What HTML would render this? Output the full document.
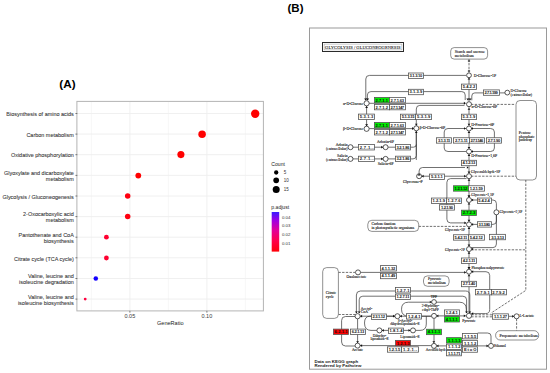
<!DOCTYPE html>
<html><head><meta charset="utf-8"><style>
html,body{margin:0;padding:0;background:#fff;width:550px;height:373px;overflow:hidden;}
svg{display:block;}
</style></head><body><svg width="550" height="373" viewBox="0 0 550 373"><line x1="91.4" y1="101.4" x2="91.4" y2="310.9" stroke="#f3f3f3" stroke-width="0.7"/><line x1="168.4" y1="101.4" x2="168.4" y2="310.9" stroke="#f3f3f3" stroke-width="0.7"/><line x1="245.4" y1="101.4" x2="245.4" y2="310.9" stroke="#f3f3f3" stroke-width="0.7"/><line x1="129.9" y1="101.4" x2="129.9" y2="310.9" stroke="#eeeeee" stroke-width="0.9"/><line x1="206.9" y1="101.4" x2="206.9" y2="310.9" stroke="#eeeeee" stroke-width="0.9"/><line x1="76.9" y1="113.5" x2="263.4" y2="113.5" stroke="#eeeeee" stroke-width="0.9"/><line x1="76.9" y1="134.1" x2="263.4" y2="134.1" stroke="#eeeeee" stroke-width="0.9"/><line x1="76.9" y1="154.7" x2="263.4" y2="154.7" stroke="#eeeeee" stroke-width="0.9"/><line x1="76.9" y1="175.4" x2="263.4" y2="175.4" stroke="#eeeeee" stroke-width="0.9"/><line x1="76.9" y1="196.0" x2="263.4" y2="196.0" stroke="#eeeeee" stroke-width="0.9"/><line x1="76.9" y1="216.6" x2="263.4" y2="216.6" stroke="#eeeeee" stroke-width="0.9"/><line x1="76.9" y1="237.2" x2="263.4" y2="237.2" stroke="#eeeeee" stroke-width="0.9"/><line x1="76.9" y1="257.8" x2="263.4" y2="257.8" stroke="#eeeeee" stroke-width="0.9"/><line x1="76.9" y1="278.5" x2="263.4" y2="278.5" stroke="#eeeeee" stroke-width="0.9"/><line x1="76.9" y1="299.1" x2="263.4" y2="299.1" stroke="#eeeeee" stroke-width="0.9"/><rect x="76.9" y="101.4" width="186.5" height="209.5" fill="none" stroke="#b4b4b4" stroke-width="1"/><line x1="75.4" y1="113.5" x2="77.3" y2="113.5" stroke="#333" stroke-width="0.6"/><text transform="translate(73.8,116.20) scale(1,1.08)" font-size="5.47" fill="#383838" stroke="#383838" stroke-width="0.08" text-anchor="end" font-family="Liberation Sans, sans-serif">Biosynthesis of amino acids</text><line x1="75.4" y1="134.1" x2="77.3" y2="134.1" stroke="#333" stroke-width="0.6"/><text transform="translate(73.8,136.82) scale(1,1.08)" font-size="5.47" fill="#383838" stroke="#383838" stroke-width="0.08" text-anchor="end" font-family="Liberation Sans, sans-serif">Carbon metabolism</text><line x1="75.4" y1="154.7" x2="77.3" y2="154.7" stroke="#333" stroke-width="0.6"/><text transform="translate(73.8,157.44) scale(1,1.08)" font-size="5.47" fill="#383838" stroke="#383838" stroke-width="0.08" text-anchor="end" font-family="Liberation Sans, sans-serif">Oxidative phosphorylation</text><line x1="75.4" y1="175.4" x2="77.3" y2="175.4" stroke="#333" stroke-width="0.6"/><text transform="translate(73.8,175.06) scale(1,1.08)" font-size="5.47" fill="#383838" stroke="#383838" stroke-width="0.08" text-anchor="end" font-family="Liberation Sans, sans-serif">Glyoxylate and dicarboxylate</text><text transform="translate(73.8,181.06) scale(1,1.08)" font-size="5.47" fill="#383838" stroke="#383838" stroke-width="0.08" text-anchor="end" font-family="Liberation Sans, sans-serif">metabolism</text><line x1="75.4" y1="196.0" x2="77.3" y2="196.0" stroke="#333" stroke-width="0.6"/><text transform="translate(73.8,198.68) scale(1,1.08)" font-size="5.47" fill="#383838" stroke="#383838" stroke-width="0.08" text-anchor="end" font-family="Liberation Sans, sans-serif">Glycolysis / Gluconeogenesis</text><line x1="75.4" y1="216.6" x2="77.3" y2="216.6" stroke="#333" stroke-width="0.6"/><text transform="translate(73.8,216.30) scale(1,1.08)" font-size="5.47" fill="#383838" stroke="#383838" stroke-width="0.08" text-anchor="end" font-family="Liberation Sans, sans-serif">2-Oxocarboxylic acid</text><text transform="translate(73.8,222.30) scale(1,1.08)" font-size="5.47" fill="#383838" stroke="#383838" stroke-width="0.08" text-anchor="end" font-family="Liberation Sans, sans-serif">metabolism</text><line x1="75.4" y1="237.2" x2="77.3" y2="237.2" stroke="#333" stroke-width="0.6"/><text transform="translate(73.8,236.92) scale(1,1.08)" font-size="5.47" fill="#383838" stroke="#383838" stroke-width="0.08" text-anchor="end" font-family="Liberation Sans, sans-serif">Pantothenate and CoA</text><text transform="translate(73.8,242.92) scale(1,1.08)" font-size="5.47" fill="#383838" stroke="#383838" stroke-width="0.08" text-anchor="end" font-family="Liberation Sans, sans-serif">biosynthesis</text><line x1="75.4" y1="257.8" x2="77.3" y2="257.8" stroke="#333" stroke-width="0.6"/><text transform="translate(73.8,260.54) scale(1,1.08)" font-size="5.47" fill="#383838" stroke="#383838" stroke-width="0.08" text-anchor="end" font-family="Liberation Sans, sans-serif">Citrate cycle (TCA cycle)</text><line x1="75.4" y1="278.5" x2="77.3" y2="278.5" stroke="#333" stroke-width="0.6"/><text transform="translate(73.8,278.16) scale(1,1.08)" font-size="5.47" fill="#383838" stroke="#383838" stroke-width="0.08" text-anchor="end" font-family="Liberation Sans, sans-serif">Valine, leucine and</text><text transform="translate(73.8,284.16) scale(1,1.08)" font-size="5.47" fill="#383838" stroke="#383838" stroke-width="0.08" text-anchor="end" font-family="Liberation Sans, sans-serif">isoleucine degradation</text><line x1="75.4" y1="299.1" x2="77.3" y2="299.1" stroke="#333" stroke-width="0.6"/><text transform="translate(73.8,298.78) scale(1,1.08)" font-size="5.47" fill="#383838" stroke="#383838" stroke-width="0.08" text-anchor="end" font-family="Liberation Sans, sans-serif">Valine, leucine and</text><text transform="translate(73.8,304.78) scale(1,1.08)" font-size="5.47" fill="#383838" stroke="#383838" stroke-width="0.08" text-anchor="end" font-family="Liberation Sans, sans-serif">isoleucine biosynthesis</text><line x1="129.9" y1="310.9" x2="129.9" y2="312.7" stroke="#333" stroke-width="0.6"/><text x="129.9" y="318.0" font-size="5.5" fill="#3a3a3a" text-anchor="middle" font-family="Liberation Sans, sans-serif">0.05</text><line x1="206.9" y1="310.9" x2="206.9" y2="312.7" stroke="#333" stroke-width="0.6"/><text x="206.9" y="318.0" font-size="5.5" fill="#3a3a3a" text-anchor="middle" font-family="Liberation Sans, sans-serif">0.10</text><text x="170.3" y="324.6" font-size="5.55" fill="#1a1a1a" text-anchor="middle" font-family="Liberation Sans, sans-serif">GeneRatio</text><circle cx="255.2" cy="113.8" r="4.2" fill="#ff0000"/><circle cx="202.1" cy="134.2" r="3.75" fill="#ff0000"/><circle cx="180.9" cy="154.6" r="3.55" fill="#ff0000"/><circle cx="138.3" cy="175.6" r="2.9" fill="#ff0000"/><circle cx="127.7" cy="195.9" r="2.75" fill="#ff0010"/><circle cx="127.7" cy="216.6" r="2.75" fill="#ff0010"/><circle cx="106.4" cy="237.2" r="2.4" fill="#ff0030"/><circle cx="106.4" cy="258.0" r="2.4" fill="#ff0030"/><circle cx="95.8" cy="278.4" r="2.25" fill="#1400ff"/><circle cx="85.2" cy="299.1" r="1.4" fill="#ff0040"/><text x="271.3" y="165.5" font-size="5.1" fill="#1a1a1a" font-family="Liberation Sans, sans-serif">Count</text><circle cx="276.2" cy="172.5" r="2.15" fill="#000"/><text x="283.8" y="174.1" font-size="4.5" fill="#333" font-family="Liberation Sans, sans-serif">5</text><circle cx="276.2" cy="180.3" r="2.85" fill="#000"/><text x="283.8" y="181.9" font-size="4.5" fill="#333" font-family="Liberation Sans, sans-serif">10</text><circle cx="276.2" cy="189.6" r="3.5" fill="#000"/><text x="283.8" y="191.2" font-size="4.5" fill="#333" font-family="Liberation Sans, sans-serif">15</text><text x="271.3" y="209.2" font-size="5.1" fill="#1a1a1a" font-family="Liberation Sans, sans-serif">p.adjust</text><defs><linearGradient id="pg" x1="0" y1="0" x2="0" y2="1"><stop offset="0" stop-color="#3a1cff"/><stop offset="0.2" stop-color="#9a00e6"/><stop offset="0.45" stop-color="#e0009c"/><stop offset="0.72" stop-color="#ff004c"/><stop offset="1" stop-color="#ff0008"/></linearGradient></defs><rect x="271.7" y="212" width="7.5" height="39.6" fill="url(#pg)"/><text x="281.9" y="218.7" font-size="4.4" fill="#333" font-family="Liberation Sans, sans-serif">0.04</text><text x="281.9" y="227.4" font-size="4.4" fill="#333" font-family="Liberation Sans, sans-serif">0.03</text><text x="281.9" y="236.1" font-size="4.4" fill="#333" font-family="Liberation Sans, sans-serif">0.02</text><text x="281.9" y="244.7" font-size="4.4" fill="#333" font-family="Liberation Sans, sans-serif">0.01</text><text x="59.3" y="88.3" font-size="11.7" font-weight="bold" fill="#000" font-family="Liberation Sans, sans-serif">(A)</text><text x="287.5" y="12.0" font-size="11.5" font-weight="bold" fill="#000" font-family="Liberation Sans, sans-serif">(B)</text><rect x="309.5" y="28" width="237" height="341.2" fill="#fff" stroke="#9a9a9a" stroke-width="1"/><rect x="322.5" y="42.5" width="81" height="9" fill="#fff" stroke="#2a2a2a" stroke-width="1"/><rect x="324.1" y="44.1" width="77.8" height="5.8" fill="none" stroke="#9a9a9a" stroke-width="0.5"/><text x="325.1" y="48.8" font-size="4.8" fill="#222" stroke="#222" stroke-width="0.1" textLength="75.4" lengthAdjust="spacingAndGlyphs" font-family="Liberation Serif, serif">GLYCOLYSIS / GLUCONEOGENESIS</text><text x="314.5" y="362.5" font-size="4.4" fill="#1a1a1a" font-weight="bold" font-family="Liberation Sans, sans-serif">Data on KEGG graph</text><text x="314.5" y="367.0" font-size="4.4" fill="#1a1a1a" font-weight="bold" font-family="Liberation Sans, sans-serif">Rendered by Pathview</text><path d="M469.0,78.0 L469.0,101.5" fill="none" stroke="#333" stroke-width="0.7"/><path d="M469.0,106.5 L469.0,125.8" fill="none" stroke="#333" stroke-width="0.7"/><path d="M469.0,131.0 L469.0,148.8" fill="none" stroke="#333" stroke-width="0.7"/><path d="M469.0,154.0 L469.0,173.5" fill="none" stroke="#333" stroke-width="0.7"/><path d="M469.0,178.7 L469.0,197.4" fill="none" stroke="#333" stroke-width="0.7"/><path d="M469.0,202.6 L469.0,221.8" fill="none" stroke="#333" stroke-width="0.7"/><path d="M469.0,227.0 L469.0,246.5" fill="none" stroke="#333" stroke-width="0.7"/><path d="M469.0,251.7 L469.0,269.1" fill="none" stroke="#333" stroke-width="0.7"/><path d="M469.0,274.3 L469.0,313.0" fill="none" stroke="#333" stroke-width="0.7"/><path d="M469.0,59.3 L469.0,72.5" fill="none" stroke="#333" stroke-width="0.7" stroke-dasharray="2.4,1.3"/><path d="M466,75.4 L369.5,75.4 Q365.8,75.4 365.8,79 L365.8,100.2" fill="none" stroke="#333" stroke-width="0.7"/><path d="M465.2,100 L465.2,95 Q465.2,91.6 461.8,91.6 L371,91.6 Q367.4,91.6 367.4,95 L367.4,100.2" fill="none" stroke="#333" stroke-width="0.7"/><path d="M507,92.9 L474.8,92.9 Q471.8,92.9 471.8,96 L471.8,100.3" fill="none" stroke="#333" stroke-width="0.7"/><path d="M369.0,103.3 L464.5,103.3" fill="none" stroke="#333" stroke-width="0.7"/><path d="M416.3,126 L416.3,109 Q416.3,105.4 419.8,105.4 L464.5,105.4" fill="none" stroke="#333" stroke-width="0.7"/><path d="M471.0,104.4 L514.8,104.4" fill="none" stroke="#333" stroke-width="0.7" stroke-dasharray="2.4,1.3"/><path d="M366.6,106.0 L366.6,126.0" fill="none" stroke="#333" stroke-width="0.7"/><path d="M369.2,128.6 L413.2,128.6" fill="none" stroke="#333" stroke-width="0.7"/><path d="M416.3,131.0 L416.3,160.0" fill="none" stroke="#333" stroke-width="0.7"/><path d="M353.0,147.2 L383.0,147.2" fill="none" stroke="#333" stroke-width="0.7"/><path d="M388.1,147.2 L413.4,147.2" fill="none" stroke="#333" stroke-width="0.7"/><path d="M413.4,147.2 Q416.3,147.2 416.3,144.5" fill="none" stroke="#333" stroke-width="0.7"/><path d="M353.0,158.9 L383.0,158.9" fill="none" stroke="#333" stroke-width="0.7"/><path d="M388.1,158.9 L413,158.9 Q416.3,158.9 416.3,155.6 L416.3,131" fill="none" stroke="#333" stroke-width="0.7"/><path d="M466,128.5 L448,128.5 Q444.2,128.5 444.2,132 L444.2,148 Q444.2,151.5 448,151.5 L466,151.5" fill="none" stroke="#333" stroke-width="0.7"/><path d="M471,128.5 L490.6,128.5 Q494.4,128.5 494.4,132 L494.4,148 Q494.4,151.5 490.6,151.5 L471,151.5" fill="none" stroke="#333" stroke-width="0.7"/><path d="M419.1,173.7 L419.1,171 Q419.1,167.5 422.6,167.5 L465,167.5" fill="none" stroke="#333" stroke-width="0.7"/><path d="M421.6,176.2 L465.9,176.2" fill="none" stroke="#333" stroke-width="0.7"/><path d="M471.0,176.2 L525.8,176.2" fill="none" stroke="#333" stroke-width="0.7" stroke-dasharray="2.4,1.3"/><path d="M525.8,176.2 L525.8,290.4 L490.8,313.2" fill="none" stroke="#333" stroke-width="0.7" stroke-dasharray="2.4,1.3"/><path d="M466.5,178.6 L450.6,178.6 Q446.9,178.6 446.9,182.3 L446.9,219.2 Q446.9,222.9 450.6,222.9 L466,222.9" fill="none" stroke="#333" stroke-width="0.7"/><path d="M471,200 L493,200 Q496.4,200 496.4,203.5 L496.4,209.8" fill="none" stroke="#333" stroke-width="0.7"/><path d="M496.4,214.8 L496.4,221 Q496.4,224.4 493,224.4 L471,224.4" fill="none" stroke="#333" stroke-width="0.7"/><path d="M418.7,226.4 L465.5,226.4" fill="none" stroke="#333" stroke-width="0.7" stroke-dasharray="2.4,1.3"/><path d="M496.4,214.8 L496.4,244 Q496.4,247.6 493,247.6 L471,247.6" fill="none" stroke="#333" stroke-width="0.7"/><path d="M471.0,249.8 L525.8,249.8" fill="none" stroke="#333" stroke-width="0.7" stroke-dasharray="2.4,1.3"/><path d="M471,271.7 L486,271.7 Q489.7,271.7 489.7,275.5 L489.7,309.5 Q489.7,313.6 485.5,313.6 L471.3,313.6" fill="none" stroke="#333" stroke-width="0.7"/><path d="M338.4,272.4 L355.0,272.4" fill="none" stroke="#333" stroke-width="0.7" stroke-dasharray="2.4,1.3"/><path d="M360.5,272.4 L465.9,272.4" fill="none" stroke="#333" stroke-width="0.7"/><path d="M356.4,313 L356.4,295 Q356.4,291 360.4,291 L465.5,291 Q469.8,291 469.8,295 L469.8,312.8" fill="none" stroke="#333" stroke-width="0.7"/><path d="M359.2,313 L359.2,299.8 Q359.2,296.2 362.8,296.2 L462.8,296.2 Q466.6,296.2 466.6,299.8 L466.6,312.8" fill="none" stroke="#333" stroke-width="0.7"/><path d="M431.5,316.2 L408.5,316.2 Q401.5,316.2 401.5,309.2 Q401.5,302.2 408.5,302.2 L459.3,302.2 Q466.3,302.2 466.3,309.2 L466.3,313" fill="none" stroke="#333" stroke-width="0.7"/><path d="M360.2,316.2 L395,316.2" fill="none" stroke="#333" stroke-width="0.7"/><path d="M338.4,314.5 L355.0,314.5" fill="none" stroke="#333" stroke-width="0.7" stroke-dasharray="2.4,1.3"/><path d="M400.0,316.2 L430.9,316.2" fill="none" stroke="#333" stroke-width="0.7"/><path d="M394.9,316.2 L370,316.2 Q364.5,316.2 364.5,323 Q364.5,330.4 371,330.4 L376.8,330.4" fill="none" stroke="#333" stroke-width="0.7"/><path d="M381.9,330.4 L410.5,330.4" fill="none" stroke="#333" stroke-width="0.7"/><path d="M415.5,330.4 L420,330.4 Q426.3,330.4 426.3,324 L426.3,316.2" fill="none" stroke="#333" stroke-width="0.7"/><path d="M436.5,315.9 L465.9,315.9" fill="none" stroke="#333" stroke-width="0.7"/><path d="M471.2,314.8 L492.6,314.8" fill="none" stroke="#333" stroke-width="0.7" stroke-dasharray="2.4,1.3"/><path d="M471.2,316.8 L492.6,316.8" fill="none" stroke="#333" stroke-width="0.7" stroke-dasharray="2.4,1.3"/><path d="M508.4,316.3 L514.0,316.3" fill="none" stroke="#333" stroke-width="0.7"/><path d="M516.6,318.8 L516.6,330.5" fill="none" stroke="#333" stroke-width="0.7" stroke-dasharray="2.4,1.3"/><path d="M434.0,318.4 L434.0,343.2" fill="none" stroke="#333" stroke-width="0.7"/><path d="M436.5,345.9 L488.5,345.9" fill="none" stroke="#333" stroke-width="0.7"/><path d="M491,343.4 L491,336 Q491,333 487.5,333 L477.7,333" fill="none" stroke="#333" stroke-width="0.7"/><path d="M357.6,318.8 L357.6,343.2" fill="none" stroke="#333" stroke-width="0.7"/><path d="M355,316.5 L345.5,316.5 Q341.6,316.5 341.6,320.5 L341.6,342 Q341.6,346 345.5,346 L355,346" fill="none" stroke="#333" stroke-width="0.7"/><path d="M360.1,345.6 L431.5,345.6" fill="none" stroke="#333" stroke-width="0.7"/><rect x="450.7" y="47.6" width="36.9" height="11.5" rx="3.5" fill="#fff" stroke="#333" stroke-width="0.55"/><rect x="408.5" y="73.00" width="15.0" height="5.4" fill="#fff" stroke="#555" stroke-width="0.8"/><rect x="408.5" y="89.30" width="15.0" height="5.4" fill="#fff" stroke="#555" stroke-width="0.8"/><rect x="483.5" y="89.90" width="16.0" height="5.4" fill="#fff" stroke="#555" stroke-width="0.8"/><rect x="461.5" y="84.10" width="15.0" height="5.4" fill="#fff" stroke="#555" stroke-width="0.8"/><rect x="358.5" y="114.10" width="16.0" height="5.4" fill="#fff" stroke="#555" stroke-width="0.8"/><rect x="374.5" y="97.40" width="15.0" height="5.4" fill="#00ee00" stroke="#555" stroke-width="0.8"/><rect x="389.5" y="97.40" width="16.0" height="5.4" fill="#fff" stroke="#555" stroke-width="0.8"/><rect x="374.5" y="104.40" width="15.0" height="5.4" fill="#fff" stroke="#555" stroke-width="0.8"/><rect x="389.5" y="104.40" width="16.0" height="5.4" fill="#fff" stroke="#555" stroke-width="0.8"/><rect x="374.5" y="122.45" width="15.0" height="5.4" fill="#00ee00" stroke="#555" stroke-width="0.8"/><rect x="389.5" y="122.45" width="16.0" height="5.4" fill="#fff" stroke="#555" stroke-width="0.8"/><rect x="374.5" y="129.55" width="15.0" height="5.4" fill="#fff" stroke="#555" stroke-width="0.8"/><rect x="389.5" y="129.55" width="16.0" height="5.4" fill="#fff" stroke="#555" stroke-width="0.8"/><rect x="400.5" y="114.20" width="15.0" height="5.4" fill="#fff" stroke="#555" stroke-width="0.8"/><rect x="415.5" y="114.20" width="16.0" height="5.4" fill="#fff" stroke="#555" stroke-width="0.8"/><rect x="358.5" y="144.55" width="16.0" height="5.4" fill="#fff" stroke="#555" stroke-width="0.8"/><rect x="395.5" y="144.55" width="15.0" height="5.4" fill="#fff" stroke="#555" stroke-width="0.8"/><rect x="358.5" y="156.20" width="16.0" height="5.4" fill="#fff" stroke="#555" stroke-width="0.8"/><rect x="395.5" y="156.20" width="15.0" height="5.4" fill="#fff" stroke="#555" stroke-width="0.8"/><rect x="461.5" y="114.20" width="15.0" height="5.4" fill="#fff" stroke="#555" stroke-width="0.8"/><rect x="436.5" y="137.75" width="15.0" height="5.4" fill="#fff" stroke="#555" stroke-width="0.8"/><rect x="453.5" y="137.75" width="16.0" height="5.4" fill="#fff" stroke="#555" stroke-width="0.8"/><rect x="469.5" y="137.75" width="15.0" height="5.4" fill="#fff" stroke="#555" stroke-width="0.8"/><rect x="486.5" y="137.75" width="15.0" height="5.4" fill="#fff" stroke="#555" stroke-width="0.8"/><rect x="461.5" y="160.30" width="15.0" height="5.4" fill="#fff" stroke="#555" stroke-width="0.8"/><rect x="516.0" y="100.5" width="20.5" height="79.5" rx="4" fill="#fff" stroke="#333" stroke-width="0.55"/><rect x="429.5" y="174.05" width="15.0" height="5.4" fill="#fff" stroke="#555" stroke-width="0.8"/><rect x="453.5" y="185.75" width="15.0" height="5.4" fill="#00ee00" stroke="#555" stroke-width="0.8"/><rect x="468.5" y="185.75" width="16.0" height="5.4" fill="#fff" stroke="#555" stroke-width="0.8"/><rect x="431.5" y="198.05" width="15.0" height="5.4" fill="#fff" stroke="#555" stroke-width="0.8"/><rect x="446.5" y="198.05" width="15.0" height="5.4" fill="#fff" stroke="#555" stroke-width="0.8"/><rect x="439.5" y="204.70" width="15.0" height="5.4" fill="#fff" stroke="#555" stroke-width="0.8"/><rect x="461.5" y="210.20" width="15.0" height="5.4" fill="#00ee00" stroke="#555" stroke-width="0.8"/><rect x="477.5" y="198.05" width="14.0" height="5.4" fill="#fff" stroke="#555" stroke-width="0.8"/><rect x="477.5" y="221.70" width="14.0" height="5.4" fill="#fff" stroke="#555" stroke-width="0.8"/><rect x="367.8" y="220.3" width="50.9" height="11.1" rx="4" fill="#fff" stroke="#333" stroke-width="0.55"/><rect x="453.5" y="234.75" width="15.0" height="5.4" fill="#fff" stroke="#555" stroke-width="0.8"/><rect x="468.5" y="234.75" width="16.0" height="5.4" fill="#fff" stroke="#555" stroke-width="0.8"/><rect x="489.5" y="234.35" width="16.0" height="5.4" fill="#fff" stroke="#555" stroke-width="0.8"/><rect x="461.5" y="258.00" width="15.0" height="5.4" fill="#fff" stroke="#555" stroke-width="0.8"/><rect x="461.5" y="281.30" width="15.0" height="5.4" fill="#fff" stroke="#555" stroke-width="0.8"/><rect x="475.5" y="289.45" width="16.0" height="5.4" fill="#fff" stroke="#555" stroke-width="0.8"/><rect x="491.5" y="289.45" width="15.0" height="5.4" fill="#fff" stroke="#555" stroke-width="0.8"/><rect x="423.5" y="275.9" width="25.6" height="10.4" rx="4" fill="#fff" stroke="#333" stroke-width="0.55"/><rect x="322.7" y="267.6" width="15.7" height="50.8" rx="4" fill="#fff" stroke="#333" stroke-width="0.55"/><rect x="380.5" y="265.60" width="16.0" height="5.4" fill="#fff" stroke="#555" stroke-width="0.8"/><rect x="380.5" y="273.30" width="16.0" height="5.4" fill="#fff" stroke="#555" stroke-width="0.8"/><rect x="395.5" y="287.55" width="15.0" height="5.4" fill="#fff" stroke="#555" stroke-width="0.8"/><rect x="395.5" y="294.10" width="15.0" height="5.4" fill="#fff" stroke="#555" stroke-width="0.8"/><rect x="371.5" y="314.00" width="15.0" height="5.4" fill="#fff" stroke="#555" stroke-width="0.8"/><rect x="406.5" y="313.65" width="15.0" height="5.4" fill="#fff" stroke="#555" stroke-width="0.8"/><rect x="388.5" y="328.10" width="15.0" height="5.4" fill="#fff" stroke="#555" stroke-width="0.8"/><rect x="444.5" y="309.90" width="15.0" height="5.4" fill="#fff" stroke="#555" stroke-width="0.8"/><rect x="444.5" y="316.60" width="15.0" height="5.4" fill="#00ee00" stroke="#555" stroke-width="0.8"/><rect x="492.5" y="313.85" width="16.0" height="5.4" fill="#fff" stroke="#555" stroke-width="0.8"/><rect x="495.6" y="330.7" width="43.1" height="9.3" rx="4.5" fill="#fff" stroke="#333" stroke-width="0.55"/><rect x="426.5" y="329.25" width="15.0" height="5.4" fill="#00ee00" stroke="#555" stroke-width="0.8"/><rect x="446.5" y="337.65" width="15.0" height="5.4" fill="#00ee00" stroke="#555" stroke-width="0.8"/><rect x="446.5" y="344.15" width="15.0" height="5.4" fill="#fff" stroke="#555" stroke-width="0.8"/><rect x="446.5" y="350.40" width="15.0" height="5.4" fill="#fff" stroke="#555" stroke-width="0.8"/><rect x="462.5" y="333.45" width="15.0" height="5.4" fill="#fff" stroke="#555" stroke-width="0.8"/><rect x="462.5" y="340.35" width="15.0" height="5.4" fill="#fff" stroke="#555" stroke-width="0.8"/><rect x="462.5" y="346.85" width="15.0" height="5.4" fill="#fff" stroke="#555" stroke-width="0.8"/><rect x="333.5" y="329.10" width="15.0" height="5.4" fill="#ff0000" stroke="#555" stroke-width="0.8"/><rect x="350.5" y="329.10" width="15.0" height="5.4" fill="#fff" stroke="#555" stroke-width="0.8"/><rect x="395.5" y="340.40" width="15.0" height="5.4" fill="#ff0000" stroke="#555" stroke-width="0.8"/><rect x="387.5" y="346.80" width="14.0" height="5.4" fill="#fff" stroke="#555" stroke-width="0.8"/><rect x="401.5" y="346.80" width="17.0" height="5.4" fill="#fff" stroke="#555" stroke-width="0.8"/><circle cx="469.0" cy="61.0" r="0.8" fill="#fff" stroke="#222" stroke-width="0.75"/><circle cx="469.0" cy="71.0" r="0.8" fill="#fff" stroke="#222" stroke-width="0.75"/><circle cx="507.3" cy="92.6" r="2.4" fill="#fff" stroke="#222" stroke-width="0.75"/><circle cx="469.0" cy="75.3" r="2.4" fill="#fff" stroke="#222" stroke-width="0.75"/><circle cx="469.0" cy="104.2" r="2.5" fill="#fff" stroke="#222" stroke-width="0.75"/><circle cx="366.6" cy="103.3" r="2.6" fill="#fff" stroke="#222" stroke-width="0.75"/><circle cx="366.6" cy="128.8" r="2.6" fill="#fff" stroke="#222" stroke-width="0.75"/><circle cx="416.3" cy="128.3" r="2.5" fill="#fff" stroke="#222" stroke-width="0.75"/><circle cx="350.5" cy="147.2" r="2.5" fill="#fff" stroke="#222" stroke-width="0.75"/><circle cx="385.6" cy="147.2" r="2.5" fill="#fff" stroke="#222" stroke-width="0.75"/><circle cx="350.5" cy="158.9" r="2.5" fill="#fff" stroke="#222" stroke-width="0.75"/><circle cx="385.6" cy="158.9" r="2.5" fill="#fff" stroke="#222" stroke-width="0.75"/><circle cx="469.0" cy="128.5" r="2.5" fill="#fff" stroke="#222" stroke-width="0.75"/><circle cx="469.0" cy="151.5" r="2.5" fill="#fff" stroke="#222" stroke-width="0.75"/><circle cx="419.1" cy="176.2" r="2.5" fill="#fff" stroke="#222" stroke-width="0.75"/><circle cx="469.0" cy="176.2" r="2.5" fill="#fff" stroke="#222" stroke-width="0.75"/><circle cx="469.0" cy="200.0" r="2.5" fill="#fff" stroke="#222" stroke-width="0.75"/><circle cx="496.4" cy="212.3" r="2.5" fill="#fff" stroke="#222" stroke-width="0.75"/><circle cx="469.0" cy="224.4" r="2.5" fill="#fff" stroke="#222" stroke-width="0.75"/><circle cx="469.0" cy="249.1" r="2.5" fill="#fff" stroke="#222" stroke-width="0.75"/><circle cx="469.0" cy="271.7" r="2.5" fill="#fff" stroke="#222" stroke-width="0.75"/><circle cx="358.0" cy="272.4" r="2.5" fill="#fff" stroke="#222" stroke-width="0.75"/><circle cx="357.6" cy="316.2" r="2.6" fill="#fff" stroke="#222" stroke-width="0.75"/><circle cx="397.4" cy="316.2" r="2.5" fill="#fff" stroke="#222" stroke-width="0.75"/><circle cx="379.4" cy="330.4" r="2.5" fill="#fff" stroke="#222" stroke-width="0.75"/><circle cx="413.0" cy="330.4" r="2.5" fill="#fff" stroke="#222" stroke-width="0.75"/><circle cx="434.0" cy="302.0" r="2.4" fill="#fff" stroke="#222" stroke-width="0.75"/><circle cx="434.0" cy="315.9" r="2.5" fill="#fff" stroke="#222" stroke-width="0.75"/><circle cx="469.0" cy="315.8" r="2.6" fill="#fff" stroke="#222" stroke-width="0.75"/><circle cx="516.6" cy="316.3" r="2.5" fill="#fff" stroke="#222" stroke-width="0.75"/><circle cx="434.0" cy="345.9" r="2.5" fill="#fff" stroke="#222" stroke-width="0.75"/><circle cx="491.0" cy="345.9" r="2.5" fill="#fff" stroke="#222" stroke-width="0.75"/><circle cx="357.6" cy="345.6" r="2.5" fill="#fff" stroke="#222" stroke-width="0.75"/><polygon points="364.1,98.6 367.1,98.6 365.6,100.6" fill="#111"/><polygon points="366.1,98.6 369.1,98.6 367.6,100.6" fill="#111"/><polygon points="466.4,98.6 469.4,98.6 467.9,100.6" fill="#111"/><polygon points="468.5,98.6 471.5,98.6 470.0,100.6" fill="#111"/><polygon points="467.6,79.6 470.4,79.6 469.0,77.8" fill="#111"/><polygon points="463.9,101.8 463.9,104.8 465.9,103.3" fill="#111"/><polygon points="467.6,109.7 470.4,109.7 469.0,107.9" fill="#111"/><polygon points="365.1,124.3 368.1,124.3 366.6,126.3" fill="#111"/><polygon points="412.1,127.1 412.1,130.1 414.0,128.6" fill="#111"/><polygon points="414.9,133.0 417.7,133.0 416.3,131.2" fill="#111"/><polygon points="381.2,145.8 381.2,148.5 383.0,147.2" fill="#111"/><polygon points="381.2,157.6 381.2,160.2 383.0,158.9" fill="#111"/><polygon points="467.6,123.8 470.4,123.8 469.0,125.6" fill="#111"/><polygon points="464.0,127.2 464.0,129.8 465.8,128.5" fill="#111"/><polygon points="473.0,127.2 473.0,129.8 471.2,128.5" fill="#111"/><polygon points="473.0,150.2 473.0,152.8 471.2,151.5" fill="#111"/><polygon points="466.9,166.3 466.9,168.7 468.5,167.5" fill="#111"/><polygon points="464.2,174.8 464.2,177.5 466.0,176.2" fill="#111"/><polygon points="467.6,195.4 470.4,195.4 469.0,197.2" fill="#111"/><polygon points="473.1,198.7 473.1,201.3 471.3,200.0" fill="#111"/><polygon points="473.1,223.1 473.1,225.8 471.3,224.4" fill="#111"/><polygon points="467.6,267.2 470.4,267.2 469.0,269.0" fill="#111"/><polygon points="464.2,271.0 464.2,273.8 466.0,272.4" fill="#111"/><polygon points="355.0,311.4 357.8,311.4 356.4,313.2" fill="#111"/><polygon points="357.8,311.4 360.6,311.4 359.2,313.2" fill="#111"/><polygon points="465.2,311.4 468.0,311.4 466.6,313.2" fill="#111"/><polygon points="468.4,311.4 471.2,311.4 469.8,313.2" fill="#111"/><polygon points="429.8,300.8 429.8,303.2 431.4,302.0" fill="#111"/><polygon points="463.8,314.4 463.8,317.2 465.6,315.8" fill="#111"/><polygon points="512.2,314.9 512.2,317.7 514.0,316.3" fill="#111"/><polygon points="432.4,341.2 435.2,341.2 433.8,343.0" fill="#111"/><polygon points="356.2,341.2 359.0,341.2 357.6,343.0" fill="#111"/><polygon points="467.6,146.9 470.4,146.9 469.0,148.8" fill="#111"/><polygon points="467.6,171.6 470.4,171.6 469.0,173.5" fill="#111"/><polygon points="467.6,195.4 470.4,195.4 469.0,197.3" fill="#111"/><polygon points="467.6,219.8 470.4,219.8 469.0,221.7" fill="#111"/><polygon points="467.6,244.5 470.4,244.5 469.0,246.4" fill="#111"/><polygon points="467.6,267.1 470.4,267.1 469.0,269.0" fill="#111"/><polygon points="467.6,133.1 470.4,133.1 469.0,131.2" fill="#111"/><polygon points="467.6,156.1 470.4,156.1 469.0,154.2" fill="#111"/><polygon points="467.6,180.8 470.4,180.8 469.0,178.9" fill="#111"/><polygon points="467.6,204.6 470.4,204.6 469.0,202.7" fill="#111"/><polygon points="467.6,229.0 470.4,229.0 469.0,227.1" fill="#111"/><polygon points="467.6,253.7 470.4,253.7 469.0,251.8" fill="#111"/><polygon points="467.6,276.3 470.4,276.3 469.0,274.4" fill="#111"/><polygon points="365.2,107.9 368.0,107.9 366.6,106.0" fill="#111"/><polygon points="464.4,221.5 464.4,224.3 466.3,222.9" fill="#111"/><polygon points="473.2,247.7 473.2,250.5 471.3,249.1" fill="#111"/><polygon points="473.2,270.3 473.2,273.1 471.3,271.7" fill="#111"/><polygon points="473.2,312.2 473.2,315.0 471.3,313.6" fill="#111"/><polygon points="438.5,344.5 438.5,347.3 436.6,345.9" fill="#111"/><polygon points="486.5,344.5 486.5,347.3 488.4,345.9" fill="#111"/><polygon points="362.1,344.2 362.1,347.0 360.2,345.6" fill="#111"/><polygon points="383.8,329.0 383.8,331.8 381.9,330.4" fill="#111"/><polygon points="408.5,329.0 408.5,331.8 410.4,330.4" fill="#111"/><polygon points="401.8,314.8 401.8,317.6 399.9,316.2" fill="#111"/><polygon points="393.0,314.8 393.0,317.6 394.9,316.2" fill="#111"/><polygon points="362.1,314.8 362.1,317.6 360.2,316.2" fill="#111"/><polygon points="438.4,314.5 438.4,317.3 436.5,315.9" fill="#111"/><polygon points="414.9,123.7 417.7,123.7 416.3,125.6" fill="#111"/><polygon points="417.7,175.5 420.5,175.5 419.1,173.6" fill="#111"/><polygon points="423.6,174.8 423.6,177.6 421.7,176.2" fill="#111"/><text x="454.8" y="52.9" font-size="4.05" fill="#000" stroke="#000" stroke-width="0.08" text-anchor="start" font-family="Liberation Serif, serif">Starch and sucrose</text><text x="454.8" y="56.5" font-size="4.05" fill="#000" stroke="#000" stroke-width="0.08" text-anchor="start" font-family="Liberation Serif, serif">metabolism</text><text x="409.5" y="77.15" font-size="4.1" fill="#111" font-weight="bold" textLength="12.7" lengthAdjust="spacing" font-family="Liberation Sans, sans-serif">3.1.3.10</text><text x="409.5" y="93.45" font-size="4.1" fill="#111" font-weight="bold" textLength="12.7" lengthAdjust="spacing" font-family="Liberation Sans, sans-serif">3.1.3.9</text><text x="484.6" y="94.05" font-size="4.1" fill="#111" font-weight="bold" textLength="13.2" lengthAdjust="spacing" font-family="Liberation Sans, sans-serif">2.7.1.199</text><text x="510.6" y="92.0" font-size="3.81" fill="#000" stroke="#000" stroke-width="0.08" text-anchor="start" font-family="Liberation Serif, serif">D-Glucose</text><text x="510.6" y="95.6" font-size="3.81" fill="#000" stroke="#000" stroke-width="0.08" text-anchor="start" font-family="Liberation Serif, serif">(extracellular)</text><text x="473.8" y="76.8" font-size="3.93" fill="#000" stroke="#000" stroke-width="0.08" text-anchor="start" font-family="Liberation Serif, serif">D-Glucose-1P</text><text x="462.8" y="88.25" font-size="4.1" fill="#111" font-weight="bold" textLength="12.4" lengthAdjust="spacing" font-family="Liberation Sans, sans-serif">5.4.2.2</text><text x="471.4" y="108.3" font-size="3.93" fill="#000" stroke="#000" stroke-width="0.08" text-anchor="start" font-family="Liberation Serif, serif">α-D-Glucose-6P</text><text x="363.4" y="104.5" font-size="3.93" fill="#000" stroke="#000" stroke-width="0.08" text-anchor="end" font-family="Liberation Serif, serif">α-D-Glucose</text><text x="359.7" y="118.25" font-size="4.1" fill="#111" font-weight="bold" textLength="13.5" lengthAdjust="spacing" font-family="Liberation Sans, sans-serif">5.3.1.3</text><text x="363.4" y="130.2" font-size="3.93" fill="#000" stroke="#000" stroke-width="0.08" text-anchor="end" font-family="Liberation Serif, serif">β-D-Glucose</text><text x="375.6" y="101.55" font-size="4.1" fill="#111" font-weight="bold" textLength="12.4" lengthAdjust="spacing" font-family="Liberation Sans, sans-serif">2.7.1.1</text><text x="390.6" y="101.55" font-size="4.1" fill="#111" font-weight="bold" textLength="13.5" lengthAdjust="spacing" font-family="Liberation Sans, sans-serif">2.7.1.63</text><text x="375.6" y="108.55" font-size="4.1" fill="#111" font-weight="bold" textLength="12.4" lengthAdjust="spacing" font-family="Liberation Sans, sans-serif">2.7.1.2</text><text x="390.6" y="108.55" font-size="4.1" fill="#111" font-weight="bold" textLength="13.5" lengthAdjust="spacing" font-family="Liberation Sans, sans-serif">2.7.1.147</text><text x="375.6" y="126.60" font-size="4.1" fill="#111" font-weight="bold" textLength="12.4" lengthAdjust="spacing" font-family="Liberation Sans, sans-serif">2.7.1.1</text><text x="390.6" y="126.60" font-size="4.1" fill="#111" font-weight="bold" textLength="13.5" lengthAdjust="spacing" font-family="Liberation Sans, sans-serif">2.7.1.63</text><text x="375.6" y="133.70" font-size="4.1" fill="#111" font-weight="bold" textLength="12.4" lengthAdjust="spacing" font-family="Liberation Sans, sans-serif">2.7.1.2</text><text x="390.6" y="133.70" font-size="4.1" fill="#111" font-weight="bold" textLength="13.5" lengthAdjust="spacing" font-family="Liberation Sans, sans-serif">2.7.1.147</text><text x="419.5" y="129.3" font-size="3.93" fill="#000" stroke="#000" stroke-width="0.08" text-anchor="start" font-family="Liberation Serif, serif">β-D-Glucose-6P</text><text x="401.7" y="118.35" font-size="4.1" fill="#111" font-weight="bold" textLength="12.8" lengthAdjust="spacing" font-family="Liberation Sans, sans-serif">5.1.3.15</text><text x="417.1" y="118.35" font-size="4.1" fill="#111" font-weight="bold" textLength="13.2" lengthAdjust="spacing" font-family="Liberation Sans, sans-serif">5.3.1.9</text><text x="347.6" y="146.3" font-size="3.81" fill="#000" stroke="#000" stroke-width="0.08" text-anchor="end" font-family="Liberation Serif, serif">Arbutin</text><text x="347.6" y="149.9" font-size="3.81" fill="#000" stroke="#000" stroke-width="0.08" text-anchor="end" font-family="Liberation Serif, serif">(extracellular)</text><text x="359.7" y="148.70" font-size="4.1" fill="#111" font-weight="bold" textLength="13.8" lengthAdjust="spacing" font-family="Liberation Sans, sans-serif">2.7.1.-</text><text x="385.6" y="143.2" font-size="3.81" fill="#000" stroke="#000" stroke-width="0.08" text-anchor="middle" font-family="Liberation Serif, serif">Arbutin-6P</text><text x="396.4" y="148.70" font-size="4.1" fill="#111" font-weight="bold" textLength="13.1" lengthAdjust="spacing" font-family="Liberation Sans, sans-serif">3.2.1.86</text><text x="347.6" y="157.3" font-size="3.81" fill="#000" stroke="#000" stroke-width="0.08" text-anchor="end" font-family="Liberation Serif, serif">Salicin</text><text x="347.6" y="160.9" font-size="3.81" fill="#000" stroke="#000" stroke-width="0.08" text-anchor="end" font-family="Liberation Serif, serif">(extracellular)</text><text x="359.7" y="160.35" font-size="4.1" fill="#111" font-weight="bold" textLength="13.8" lengthAdjust="spacing" font-family="Liberation Sans, sans-serif">2.7.1.-</text><text x="385.6" y="164.5" font-size="3.81" fill="#000" stroke="#000" stroke-width="0.08" text-anchor="middle" font-family="Liberation Serif, serif">Salicin-6P</text><text x="396.4" y="160.35" font-size="4.1" fill="#111" font-weight="bold" textLength="13.1" lengthAdjust="spacing" font-family="Liberation Sans, sans-serif">3.2.1.86</text><text x="462.6" y="118.35" font-size="4.1" fill="#111" font-weight="bold" textLength="12.7" lengthAdjust="spacing" font-family="Liberation Sans, sans-serif">5.3.1.9</text><text x="471.2" y="126.0" font-size="3.93" fill="#000" stroke="#000" stroke-width="0.08" text-anchor="start" font-family="Liberation Serif, serif">D-Fructose-6P</text><text x="438.1" y="141.90" font-size="4.1" fill="#111" font-weight="bold" textLength="12.3" lengthAdjust="spacing" font-family="Liberation Sans, sans-serif">3.1.3.11</text><text x="455.0" y="141.90" font-size="4.1" fill="#111" font-weight="bold" textLength="12.8" lengthAdjust="spacing" font-family="Liberation Sans, sans-serif">2.7.1.11</text><text x="470.4" y="141.90" font-size="4.1" fill="#111" font-weight="bold" textLength="13.0" lengthAdjust="spacing" font-family="Liberation Sans, sans-serif">2.7.1.146</text><text x="487.7" y="141.90" font-size="4.1" fill="#111" font-weight="bold" textLength="12.6" lengthAdjust="spacing" font-family="Liberation Sans, sans-serif">2.7.1.90</text><text x="471.2" y="157.0" font-size="3.93" fill="#000" stroke="#000" stroke-width="0.08" text-anchor="start" font-family="Liberation Serif, serif">D-Fructose-1,6P</text><text x="462.6" y="164.45" font-size="4.1" fill="#111" font-weight="bold" textLength="12.7" lengthAdjust="spacing" font-family="Liberation Sans, sans-serif">4.1.2.13</text><text x="518.8" y="134.2" font-size="3.93" fill="#000" stroke="#000" stroke-width="0.08" text-anchor="start" font-family="Liberation Serif, serif">Pentose</text><text x="518.8" y="137.8" font-size="3.93" fill="#000" stroke="#000" stroke-width="0.08" text-anchor="start" font-family="Liberation Serif, serif">phosphate</text><text x="518.8" y="141.4" font-size="3.93" fill="#000" stroke="#000" stroke-width="0.08" text-anchor="start" font-family="Liberation Serif, serif">pathway</text><text x="412.8" y="183.0" font-size="3.93" fill="#000" stroke="#000" stroke-width="0.08" text-anchor="middle" font-family="Liberation Serif, serif">Glycerone-P</text><text x="431.1" y="178.20" font-size="4.1" fill="#111" font-weight="bold" textLength="11.7" lengthAdjust="spacing" font-family="Liberation Sans, sans-serif">5.3.1.1</text><text x="471.0" y="173.2" font-size="3.81" fill="#000" stroke="#000" stroke-width="0.08" text-anchor="start" font-family="Liberation Serif, serif">Glyceraldehyde-3P</text><text x="454.6" y="189.90" font-size="4.1" fill="#111" font-weight="bold" textLength="12.6" lengthAdjust="spacing" font-family="Liberation Sans, sans-serif">1.2.1.12</text><text x="469.8" y="189.90" font-size="4.1" fill="#111" font-weight="bold" textLength="13.0" lengthAdjust="spacing" font-family="Liberation Sans, sans-serif">1.2.1.59</text><text x="432.5" y="202.20" font-size="4.1" fill="#111" font-weight="bold" textLength="12.5" lengthAdjust="spacing" font-family="Liberation Sans, sans-serif">1.2.1.9</text><text x="447.6" y="202.20" font-size="4.1" fill="#111" font-weight="bold" textLength="13.0" lengthAdjust="spacing" font-family="Liberation Sans, sans-serif">1.2.7.6</text><text x="441.1" y="208.85" font-size="4.1" fill="#111" font-weight="bold" textLength="12.0" lengthAdjust="spacing" font-family="Liberation Sans, sans-serif">1.2.1.90</text><text x="471.2" y="196.1" font-size="3.81" fill="#000" stroke="#000" stroke-width="0.08" text-anchor="start" font-family="Liberation Serif, serif">Glycerate-1,3P</text><text x="462.7" y="214.35" font-size="4.1" fill="#111" font-weight="bold" textLength="12.6" lengthAdjust="spacing" font-family="Liberation Sans, sans-serif">2.7.2.3</text><text x="478.3" y="202.20" font-size="4.1" fill="#111" font-weight="bold" textLength="11.6" lengthAdjust="spacing" font-family="Liberation Sans, sans-serif">5.4.2.4</text><text x="499.5" y="213.4" font-size="3.81" fill="#000" stroke="#000" stroke-width="0.08" text-anchor="start" font-family="Liberation Serif, serif">Glycerate-2,3P</text><text x="478.6" y="225.85" font-size="4.1" fill="#111" font-weight="bold" textLength="11.5" lengthAdjust="spacing" font-family="Liberation Sans, sans-serif">3.1.3.80</text><text x="465.0" y="231.0" font-size="3.81" fill="#000" stroke="#000" stroke-width="0.08" text-anchor="end" font-family="Liberation Serif, serif">Glycerate-3P</text><text x="371.5" y="224.9" font-size="3.81" fill="#000" stroke="#000" stroke-width="0.08" text-anchor="start" font-family="Liberation Serif, serif">Carbon fixation</text><text x="371.5" y="228.5" font-size="3.81" fill="#000" stroke="#000" stroke-width="0.08" text-anchor="start" font-family="Liberation Serif, serif">in photosynthetic organisms</text><text x="454.6" y="238.90" font-size="4.1" fill="#111" font-weight="bold" textLength="12.6" lengthAdjust="spacing" font-family="Liberation Sans, sans-serif">5.4.2.11</text><text x="469.8" y="238.90" font-size="4.1" fill="#111" font-weight="bold" textLength="13.0" lengthAdjust="spacing" font-family="Liberation Sans, sans-serif">5.4.2.12</text><text x="491.2" y="238.50" font-size="4.1" fill="#111" font-weight="bold" textLength="12.9" lengthAdjust="spacing" font-family="Liberation Sans, sans-serif">3.1.3.13</text><text x="465.0" y="251.0" font-size="3.81" fill="#000" stroke="#000" stroke-width="0.08" text-anchor="end" font-family="Liberation Serif, serif">Glycerate-2P</text><text x="462.7" y="262.15" font-size="4.1" fill="#111" font-weight="bold" textLength="12.6" lengthAdjust="spacing" font-family="Liberation Sans, sans-serif">4.2.1.11</text><text x="471.5" y="269.0" font-size="3.81" fill="#000" stroke="#000" stroke-width="0.08" text-anchor="start" font-family="Liberation Serif, serif">Phosphoenolpyruvate</text><text x="462.7" y="285.45" font-size="4.1" fill="#111" font-weight="bold" textLength="12.6" lengthAdjust="spacing" font-family="Liberation Sans, sans-serif">2.7.1.40</text><text x="476.7" y="293.60" font-size="4.1" fill="#111" font-weight="bold" textLength="13.0" lengthAdjust="spacing" font-family="Liberation Sans, sans-serif">2.7.9.1</text><text x="492.3" y="293.60" font-size="4.1" fill="#111" font-weight="bold" textLength="12.5" lengthAdjust="spacing" font-family="Liberation Sans, sans-serif">2.7.9.2</text><text x="428.0" y="280.4" font-size="3.81" fill="#000" stroke="#000" stroke-width="0.08" text-anchor="start" font-family="Liberation Serif, serif">Pyruvate</text><text x="428.0" y="284.0" font-size="3.81" fill="#000" stroke="#000" stroke-width="0.08" text-anchor="start" font-family="Liberation Serif, serif">metabolism</text><text x="325.7" y="294.3" font-size="3.93" fill="#000" stroke="#000" stroke-width="0.08" text-anchor="start" font-family="Liberation Serif, serif">Citrate</text><text x="325.7" y="297.9" font-size="3.93" fill="#000" stroke="#000" stroke-width="0.08" text-anchor="start" font-family="Liberation Serif, serif">cycle</text><text x="356.5" y="278.3" font-size="3.81" fill="#000" stroke="#000" stroke-width="0.08" text-anchor="middle" font-family="Liberation Serif, serif">Oxaloacetate</text><text x="381.6" y="269.75" font-size="4.1" fill="#111" font-weight="bold" textLength="13.7" lengthAdjust="spacing" font-family="Liberation Sans, sans-serif">4.1.1.32</text><text x="381.6" y="277.45" font-size="4.1" fill="#111" font-weight="bold" textLength="13.7" lengthAdjust="spacing" font-family="Liberation Sans, sans-serif">4.1.1.49</text><text x="396.4" y="291.70" font-size="4.1" fill="#111" font-weight="bold" textLength="13.1" lengthAdjust="spacing" font-family="Liberation Sans, sans-serif">1.2.7.1</text><text x="396.4" y="298.25" font-size="4.1" fill="#111" font-weight="bold" textLength="13.1" lengthAdjust="spacing" font-family="Liberation Sans, sans-serif">1.2.7.11</text><text x="360.8" y="309.6" font-size="3.81" fill="#000" stroke="#000" stroke-width="0.08" text-anchor="start" font-family="Liberation Serif, serif">Acetyl-</text><text x="360.8" y="313.0" font-size="3.81" fill="#000" stroke="#000" stroke-width="0.08" text-anchor="start" font-family="Liberation Serif, serif">CoA</text><text x="372.4" y="318.15" font-size="4.1" fill="#111" font-weight="bold" textLength="12.7" lengthAdjust="spacing" font-family="Liberation Sans, sans-serif">2.3.1.12</text><text x="405.0" y="322.0" font-size="3.69" fill="#000" stroke="#000" stroke-width="0.08" text-anchor="middle" font-family="Liberation Serif, serif">S-Acetyl-</text><text x="405.0" y="325.4" font-size="3.69" fill="#000" stroke="#000" stroke-width="0.08" text-anchor="middle" font-family="Liberation Serif, serif">dihydrolipoamide-E</text><text x="407.9" y="317.80" font-size="4.1" fill="#111" font-weight="bold" textLength="12.7" lengthAdjust="spacing" font-family="Liberation Sans, sans-serif">1.2.4.1</text><text x="379.6" y="337.0" font-size="3.69" fill="#000" stroke="#000" stroke-width="0.08" text-anchor="middle" font-family="Liberation Serif, serif">Dihydro-</text><text x="379.6" y="340.4" font-size="3.69" fill="#000" stroke="#000" stroke-width="0.08" text-anchor="middle" font-family="Liberation Serif, serif">lipoamide-E</text><text x="389.4" y="332.25" font-size="4.1" fill="#111" font-weight="bold" textLength="13.1" lengthAdjust="spacing" font-family="Liberation Sans, sans-serif">1.8.1.4</text><text x="410.0" y="337.6" font-size="3.69" fill="#000" stroke="#000" stroke-width="0.08" text-anchor="middle" font-family="Liberation Serif, serif">Lipoamide-E</text><text x="434.0" y="298.4" font-size="3.69" fill="#000" stroke="#000" stroke-width="0.08" text-anchor="middle" font-family="Liberation Serif, serif">TPP</text><text x="430.5" y="307.0" font-size="3.69" fill="#000" stroke="#000" stroke-width="0.08" text-anchor="middle" font-family="Liberation Serif, serif">2-Hydroxy-</text><text x="430.5" y="310.6" font-size="3.69" fill="#000" stroke="#000" stroke-width="0.08" text-anchor="middle" font-family="Liberation Serif, serif">ethyl-ThPP</text><text x="445.8" y="314.05" font-size="4.1" fill="#111" font-weight="bold" textLength="11.9" lengthAdjust="spacing" font-family="Liberation Sans, sans-serif">1.2.4.1</text><text x="445.8" y="320.75" font-size="4.1" fill="#111" font-weight="bold" textLength="11.9" lengthAdjust="spacing" font-family="Liberation Sans, sans-serif">4.1.1.1</text><text x="469.0" y="321.5" font-size="3.81" fill="#000" stroke="#000" stroke-width="0.08" text-anchor="middle" font-family="Liberation Serif, serif">Pyruvate</text><text x="493.9" y="318.00" font-size="4.1" fill="#111" font-weight="bold" textLength="13.2" lengthAdjust="spacing" font-family="Liberation Sans, sans-serif">1.1.1.27</text><text x="519.5" y="317.4" font-size="3.81" fill="#000" stroke="#000" stroke-width="0.08" text-anchor="start" font-family="Liberation Serif, serif">L-Lactate</text><text x="499.5" y="336.6" font-size="4.05" fill="#000" stroke="#000" stroke-width="0.08" text-anchor="start" font-family="Liberation Serif, serif">Propanoate metabolism</text><text x="427.8" y="333.40" font-size="4.1" fill="#111" font-weight="bold" textLength="12.5" lengthAdjust="spacing" font-family="Liberation Sans, sans-serif">4.1.1.1</text><text x="436.0" y="351.4" font-size="3.69" fill="#000" stroke="#000" stroke-width="0.08" text-anchor="middle" font-family="Liberation Serif, serif">Acetaldehyde</text><text x="448.1" y="341.80" font-size="4.1" fill="#111" font-weight="bold" textLength="12.5" lengthAdjust="spacing" font-family="Liberation Sans, sans-serif">1.1.1.1</text><text x="448.1" y="348.30" font-size="4.1" fill="#111" font-weight="bold" textLength="12.5" lengthAdjust="spacing" font-family="Liberation Sans, sans-serif">1.1.1.2</text><text x="448.1" y="354.55" font-size="4.1" fill="#111" font-weight="bold" textLength="12.5" lengthAdjust="spacing" font-family="Liberation Sans, sans-serif">1.1.1.71</text><text x="463.9" y="337.60" font-size="4.1" fill="#111" font-weight="bold" textLength="12.5" lengthAdjust="spacing" font-family="Liberation Sans, sans-serif">1.1.5.5</text><text x="463.9" y="344.50" font-size="4.1" fill="#111" font-weight="bold" textLength="12.5" lengthAdjust="spacing" font-family="Liberation Sans, sans-serif">1.1.1.2</text><text x="463.9" y="351.00" font-size="4.1" fill="#111" font-weight="bold" textLength="12.5" lengthAdjust="spacing" font-family="Liberation Sans, sans-serif">EtoO</text><text x="494.0" y="347.0" font-size="3.81" fill="#000" stroke="#000" stroke-width="0.08" text-anchor="start" font-family="Liberation Serif, serif">Ethanol</text><text x="334.6" y="333.25" font-size="4.1" fill="#111" font-weight="bold" textLength="12.9" lengthAdjust="spacing" font-family="Liberation Sans, sans-serif">6.2.1.1</text><text x="351.7" y="333.25" font-size="4.1" fill="#111" font-weight="bold" textLength="12.6" lengthAdjust="spacing" font-family="Liberation Sans, sans-serif">6.2.1.13</text><text x="357.6" y="350.8" font-size="3.69" fill="#000" stroke="#000" stroke-width="0.08" text-anchor="middle" font-family="Liberation Serif, serif">Acetate</text><text x="396.8" y="344.55" font-size="4.1" fill="#111" font-weight="bold" textLength="12.7" lengthAdjust="spacing" font-family="Liberation Sans, sans-serif">1.2.1.3</text><text x="388.8" y="350.95" font-size="4.1" fill="#111" font-weight="bold" textLength="11.5" lengthAdjust="spacing" font-family="Liberation Sans, sans-serif">1.2.1.5</text><text x="402.9" y="350.95" font-size="4.1" fill="#111" font-weight="bold" textLength="14.2" lengthAdjust="spacing" font-family="Liberation Sans, sans-serif">1.2.1.-</text></svg></body></html>
